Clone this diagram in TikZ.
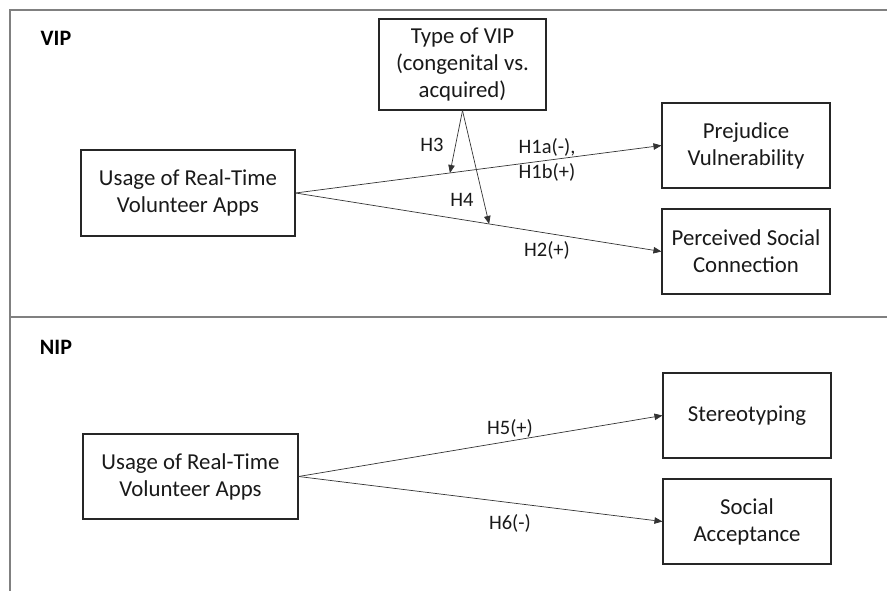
\documentclass[tikz,border=0pt]{standalone}
\usepackage{fontspec}
\setmainfont{Carlito}
\usetikzlibrary{arrows.meta}
\begin{document}
\begin{tikzpicture}[x=1pt,y=-1pt,
  box/.style={draw=black!85, line width=1.1pt, align=center, inner sep=0pt,
    text=black!90, font=\fontsize{22.8}{27}\selectfont},
  lbl/.style={inner sep=0pt, align=center, text=black!90, font=\fontsize{20.5}{25}\selectfont},
  head/.style={inner sep=0pt, text=black, font=\fontsize{22}{26}\selectfont\bfseries},
  arr/.style={draw=black!80, line width=0.7pt, -{Triangle[length=8pt,width=6.5pt]}},
  frame/.style={draw=black!50, line width=1.4pt}]
\useasboundingbox (0,0) rectangle (887,591);
% frame
\draw[frame] (10,591) -- (10,10) -- (887,10);
\draw[frame] (10,317) -- (887,317);
\node[head] (vip) at (56,38) {VIP};
\node[head] (nip) at (56,347) {NIP};
% VIP part
\node[box, minimum width=214pt, minimum height=86pt] (u1) at (188,193) {Usage of Real-Time\\Volunteer Apps};
\node[box, minimum width=167pt, minimum height=91pt] (typ) at (462.5,64.5) {Type of VIP\\(congenital vs.\\acquired)};
\node[box, minimum width=168pt, minimum height=85pt] (pv) at (746,145.5) {Prejudice\\Vulnerability};
\node[box, minimum width=168pt, minimum height=85pt] (psc) at (746,251.5) {Perceived Social\\Connection};
\draw[arr] (u1.east) -- (pv.west);
\draw[arr] (u1.east) -- (psc.west);
\path (u1.east) -- (pv.west) coordinate[pos=0.422] (m3);
\path (u1.east) -- (psc.west) coordinate[pos=0.529] (m4);
\draw[arr] (typ.south) -- (m3);
\draw[arr] (typ.south) -- (m4);
\node[lbl] (h3) at (432,145) {H3};
\node[lbl] (h1) at (547,160) {H1a(-),\\H1b(+)};
\node[lbl] (h4) at (462,200) {H4};
\node[lbl] (h2) at (547,250) {H2(+)};
% NIP part
\node[box, minimum width=215pt, minimum height=85pt] (u2) at (190.5,476.5) {Usage of Real-Time\\Volunteer Apps};
\node[box, minimum width=168pt, minimum height=85pt] (st) at (747,415.5) {Stereotyping};
\node[box, minimum width=168pt, minimum height=85pt] (sa) at (747,521.5) {Social\\Acceptance};
\draw[arr] (u2.east) -- (st.west);
\draw[arr] (u2.east) -- (sa.west);
\node[lbl] (h5) at (510,428) {H5(+)};
\node[lbl] (h6) at (510,523) {H6(-)};
\end{tikzpicture}
\end{document}
